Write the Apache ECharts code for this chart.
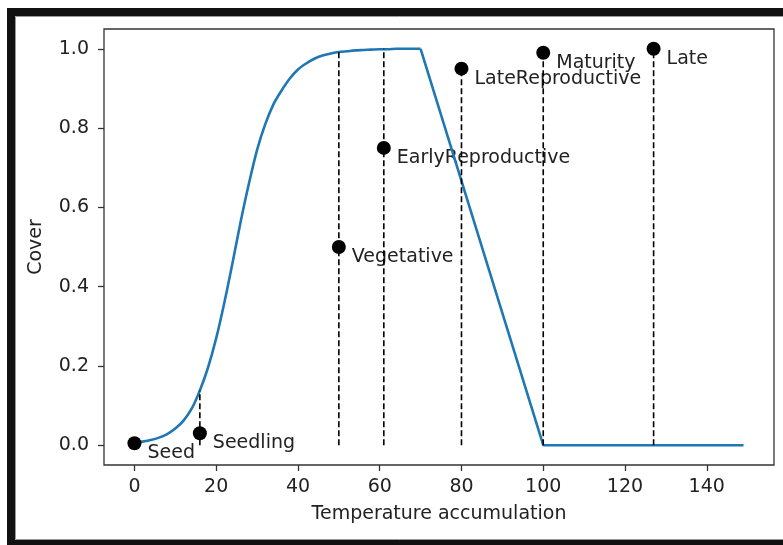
<!DOCTYPE html>
<html>
<head>
<meta charset="utf-8">
<script src="https://cdn.jsdelivr.net/npm/echarts@6/dist/echarts.min.js"></script>
<style>
  html, body { margin: 0; padding: 0; background: #fff; }
  #chart { width: 783px; height: 545px; }
</style>
</head>
<body>
<div id="chart"></div>
<script>
// cover curve: smooth rise, then straight decline
const riseX = [0, 2, 4, 6, 8, 10, 12, 14, 16, 18, 20, 22, 24, 26, 28, 30, 32, 34, 36, 38, 40,
  42, 44, 46, 48, 50, 52, 54, 56, 58, 60, 62, 64, 66, 68, 70]
const riseY = [0.006, 0.009, 0.013, 0.019, 0.028, 0.042, 0.062, 0.092, 0.138, 0.196, 0.27, 0.36,
  0.46, 0.565, 0.66, 0.745, 0.81, 0.86, 0.895, 0.925, 0.948, 0.963, 0.975, 0.983, 0.988, 0.992,
  0.994, 0.996, 0.997, 0.998, 0.999, 0.999, 1.0, 1.0, 1.0, 1.0]
const fallX = [70, 100, 149]
const fallY = [1.0, 0, 0]

// growth stages
const stageNames = ['Seed', 'Seedling', 'Vegetative', 'EarlyReproductive', 'LateReproductive', 'Maturity', 'Late']
const stageX = [0, 16, 50, 61, 80, 100, 127]
const stageY = [0.005, 0.03, 0.5, 0.75, 0.95, 0.99, 1.0]
// top of the dashed line under each stage
const dashTop = [0.006, 0.138, 0.992, 1.0, 0.95, 0.99, 1.0]

const xTicks = [0, 20, 40, 60, 80, 100, 120, 140]
const yTicks = [0, 0.2, 0.4, 0.6, 0.8, 1.0]

const font = 'DejaVu Sans'
const textColor = '#222'
const lineColor = '#1f77b4'

const myChart = echarts.init(document.getElementById('chart'))
myChart.setOption({
  backgroundColor: '#fff',
  animation: false,
  textStyle: { fontFamily: font },
  graphic: [
    {
      type: 'rect',
      shape: { x: 11, y: 12, width: 790, height: 532 },
      style: { fill: 'none', stroke: '#111', lineWidth: 8 },
      z: 100
    },
    {
      type: 'rect',
      shape: { x: 15.5, y: 16.5, width: 790, height: 523 },
      style: { fill: 'none', stroke: '#999', lineWidth: 1 },
      z: 100
    }
  ],
  grid: {
    left: 104,
    right: 9,
    top: 29,
    bottom: 80,
    show: true,
    borderColor: '#333',
    borderWidth: 1.3
  },
  xAxis: {
    type: 'value',
    min: -7.45,
    max: 156.45,
    name: 'Temperature accumulation',
    nameLocation: 'middle',
    nameGap: 40,
    nameTextStyle: { fontSize: 19, color: textColor, fontFamily: font },
    splitLine: { show: false },
    axisLine: { show: false, onZero: false },
    axisTick: {
      show: true,
      customValues: xTicks,
      length: 6,
      lineStyle: { color: '#333', width: 1.3 }
    },
    axisLabel: {
      customValues: xTicks,
      margin: 13,
      fontSize: 19,
      color: textColor,
      fontFamily: font,
      formatter: v => String(v)
    }
  },
  yAxis: {
    type: 'value',
    min: -0.05,
    max: 1.05,
    name: 'Cover',
    nameLocation: 'middle',
    nameGap: 58,
    nameTextStyle: { fontSize: 19, color: textColor, fontFamily: font },
    splitLine: { show: false },
    axisLine: { show: false, onZero: false },
    axisTick: {
      show: true,
      customValues: yTicks,
      length: 6,
      lineStyle: { color: '#333', width: 1.3 }
    },
    axisLabel: {
      customValues: yTicks,
      margin: 15,
      fontSize: 19,
      color: textColor,
      fontFamily: font,
      formatter: v => v.toFixed(1)
    }
  },
  series: [
    {
      // stage names, kept under the lines like in the original
      type: 'scatter',
      z: 1,
      symbolSize: 14,
      itemStyle: { color: 'rgba(0,0,0,0)', opacity: 1 },
      silent: true,
      data: stageX.map((x, i) => ({ value: [x, stageY[i]], name: stageNames[i] })),
      label: {
        show: true,
        position: 'right',
        distance: 6,
        offset: [0, 10],
        formatter: p => p.name,
        fontSize: 19,
        color: textColor,
        fontFamily: font
      }
    },
    {
      type: 'line',
      z: 2,
      symbol: 'none',
      smooth: 0.3,
      data: riseX.map((x, i) => [x, riseY[i]]),
      lineStyle: { color: lineColor, width: 2.6 }
    },
    {
      type: 'line',
      z: 2,
      symbol: 'none',
      data: fallX.map((x, i) => [x, fallY[i]]),
      lineStyle: { color: lineColor, width: 2.6 }
    },
    {
      type: 'custom',
      z: 3,
      data: stageX.map((x, i) => [x, dashTop[i]]),
      renderItem: (params, api) => {
        const p0 = api.coord([api.value(0), 0])
        const p1 = api.coord([api.value(0), api.value(1)])
        return {
          type: 'line',
          shape: { x1: p0[0], y1: p0[1], x2: p1[0], y2: p1[1] },
          style: { stroke: '#000', lineWidth: 1.6, lineDash: [6, 3] }
        }
      }
    },
    {
      type: 'scatter',
      z: 4,
      symbolSize: 14,
      itemStyle: { color: '#000', opacity: 1 },
      data: stageX.map((x, i) => [x, stageY[i]])
    }
  ]
})
window.onresize = myChart.resize
</script>
</body>
</html>
